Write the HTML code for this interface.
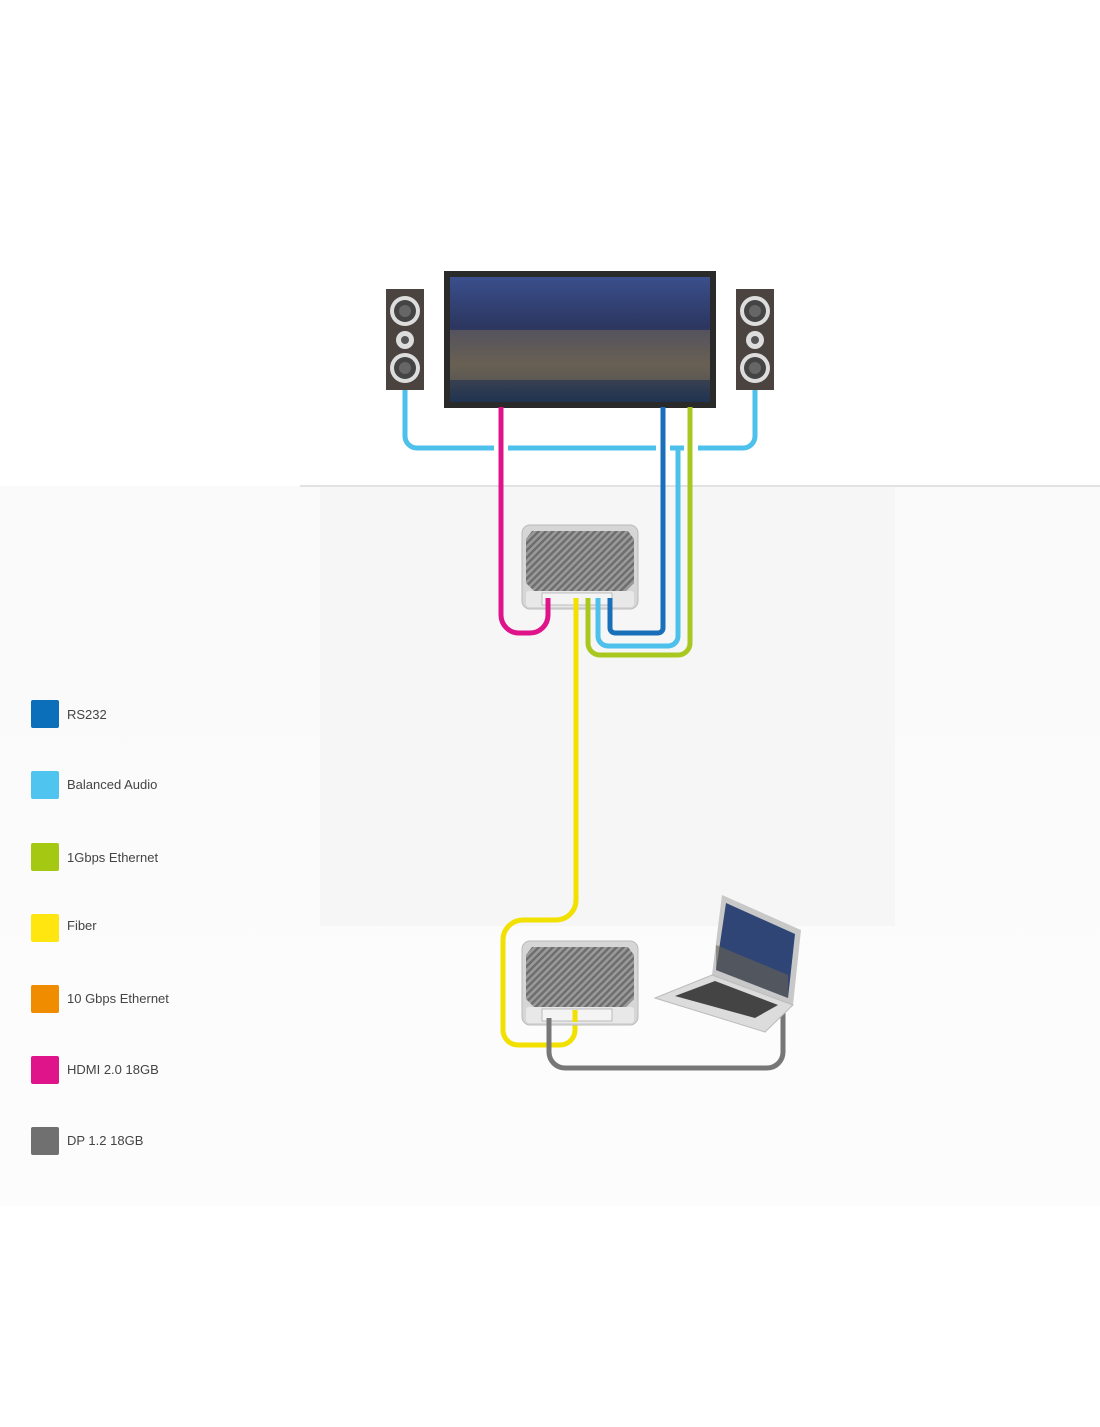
<!DOCTYPE html>
<html><head><meta charset="utf-8"><style>
body{margin:0;width:1100px;height:1422px;background:#fff;font-family:"Liberation Sans",sans-serif;overflow:hidden}
</style></head><body>
<svg width="1100" height="1422" xmlns="http://www.w3.org/2000/svg">
<defs>
<linearGradient id="bg" x1="0" y1="0" x2="0" y2="1"><stop offset="0" stop-color="#f4f4f4"/><stop offset="1" stop-color="#fafafa"/></linearGradient>
<linearGradient id="scr" x1="0" y1="0" x2="0" y2="1"><stop offset="0" stop-color="#3a4f8c"/><stop offset="0.4" stop-color="#2c3660"/><stop offset="0.7" stop-color="#4a4a50"/><stop offset="1" stop-color="#1f3350"/></linearGradient>
<pattern id="grill" width="5" height="5" patternUnits="userSpaceOnUse" patternTransform="rotate(45)"><rect width="5" height="5" fill="#9a9a9a"/><rect width="2.5" height="5" fill="#6e6e6e"/></pattern>
<g id="dev">
<rect x="0" y="0" width="116" height="84" rx="8" fill="#d6d6d6" stroke="#bbb"/>
<path d="M10 6 H106 L112 14 V58 L104 66 H12 L4 58 V14 Z" fill="url(#grill)"/>
<rect x="4" y="66" width="108" height="16" rx="3" fill="#e8e8e8"/>
<rect x="20" y="68" width="70" height="12" fill="#f4f4f4" stroke="#999" stroke-width="0.6"/>
</g>
<g id="spk">
<rect x="0" y="0" width="38" height="101" fill="#4a4340"/>
<circle cx="19" cy="22" r="15" fill="#ddd"/><circle cx="19" cy="22" r="11" fill="#444"/><circle cx="19" cy="22" r="6" fill="#666"/>
<circle cx="19" cy="51" r="9" fill="#ddd"/><circle cx="19" cy="51" r="4" fill="#555"/>
<circle cx="19" cy="79" r="15" fill="#ddd"/><circle cx="19" cy="79" r="11" fill="#444"/><circle cx="19" cy="79" r="6" fill="#666"/>
</g>
</defs>
<rect x="0" y="486" width="1100" height="720" fill="url(#bg)" opacity="0.5"/>
<rect x="320" y="486" width="575" height="440" fill="#f6f6f6"/>
<line x1="300" y1="486" x2="1100" y2="486" stroke="#e2e2e2" stroke-width="2"/>

<!-- monitor -->
<rect x="444" y="271" width="272" height="137" fill="#2a2a2a"/>
<rect x="450" y="277" width="260" height="125" fill="url(#scr)"/>
<rect x="450" y="330" width="260" height="50" fill="#c9a25a" opacity="0.25"/>
<use href="#spk" x="386" y="289"/>
<use href="#spk" x="736" y="289"/>

<g fill="none" stroke-width="5" stroke-linecap="butt" stroke-linejoin="round">
<!-- balanced audio -->
<path d="M405 390 V436 a12 12 0 0 0 12 12 H494" stroke="#4ec0ec"/>
<path d="M508 448 H656" stroke="#4ec0ec"/>
<path d="M670 448 H684" stroke="#4ec0ec"/>
<path d="M698 448 H743 a12 12 0 0 0 12 -12 V390" stroke="#4ec0ec"/>
<path d="M678 448 V636 a10 10 0 0 1 -10 10 H608 a10 10 0 0 1 -10 -10 V598" stroke="#4ec0ec"/>
<!-- pink -->
<path d="M501 407 V615 a18 18 0 0 0 18 18 H530 a18 18 0 0 0 18 -18 V598" stroke="#e0148a"/>
<!-- rs232 -->
<path d="M663 407 V628 a5 5 0 0 1 -5 5 H615 a5 5 0 0 1 -5 -5 V598" stroke="#1a6fba"/>
<!-- green -->
<path d="M690 407 V643 a12 12 0 0 1 -12 12 H600 a12 12 0 0 1 -12 -12 V598" stroke="#a8c820"/>
<!-- yellow -->
<path d="M576 598 V900 a20 20 0 0 1 -20 20 H523 a20 20 0 0 0 -20 20 V1030 a15 15 0 0 0 15 15 H560 a15 15 0 0 0 15 -15 V1012" stroke="#f2e000"/>
<!-- gray -->
<path d="M549 1018 V1052 a16 16 0 0 0 16 16 H767 a16 16 0 0 0 16 -16 V1008" stroke="#777"/>
</g>
<use href="#dev" x="522" y="525"/>
<use href="#dev" x="522" y="941"/>
<g fill="none" stroke-width="5">
<path d="M548 598 V610" stroke="#e0148a"/>
<path d="M576 598 V612" stroke="#f2e000"/>
<path d="M588 598 V612" stroke="#a8c820"/>
<path d="M598 598 V612" stroke="#4ec0ec"/>
<path d="M610 598 V612" stroke="#1a6fba"/>
<path d="M575 1010 V1022" stroke="#f2e000"/>
<path d="M549 1018 V1032" stroke="#777"/>
</g>
<!-- laptop -->
<polygon points="722,895 801,930 793,1005 712,975" fill="#c8c8c8"/>
<polygon points="726,903 795,934 788,998 716,970" fill="#2f4576"/>
<polygon points="716,945 788,975 788,998 716,970" fill="#6a6350" opacity="0.6"/>
<polygon points="655,998 712,975 793,1005 765,1032" fill="#dcdcdc" stroke="#bbb"/>
<polygon points="675,996 715,981 778,1005 755,1018" fill="#444"/>

<!-- legend -->
<g font-size="13" fill="#444">
<rect x="31" y="700" width="28" height="28" rx="2" fill="#0b6fba"/><text x="67" y="719">RS232</text>
<rect x="31" y="771" width="28" height="28" rx="2" fill="#4ec4ee"/><text x="67" y="789">Balanced Audio</text>
<rect x="31" y="843" width="28" height="28" rx="2" fill="#a5c912"/><text x="67" y="862">1Gbps Ethernet</text>
<rect x="31" y="914" width="28" height="28" rx="2" fill="#ffe610"/><text x="67" y="930">Fiber</text>
<rect x="31" y="985" width="28" height="28" rx="2" fill="#f08c00"/><text x="67" y="1003">10 Gbps Ethernet</text>
<rect x="31" y="1056" width="28" height="28" rx="2" fill="#e0148a"/><text x="67" y="1074">HDMI 2.0 18GB</text>
<rect x="31" y="1127" width="28" height="28" rx="2" fill="#707070"/><text x="67" y="1145">DP 1.2 18GB</text>
</g>
</svg>
</body></html>
